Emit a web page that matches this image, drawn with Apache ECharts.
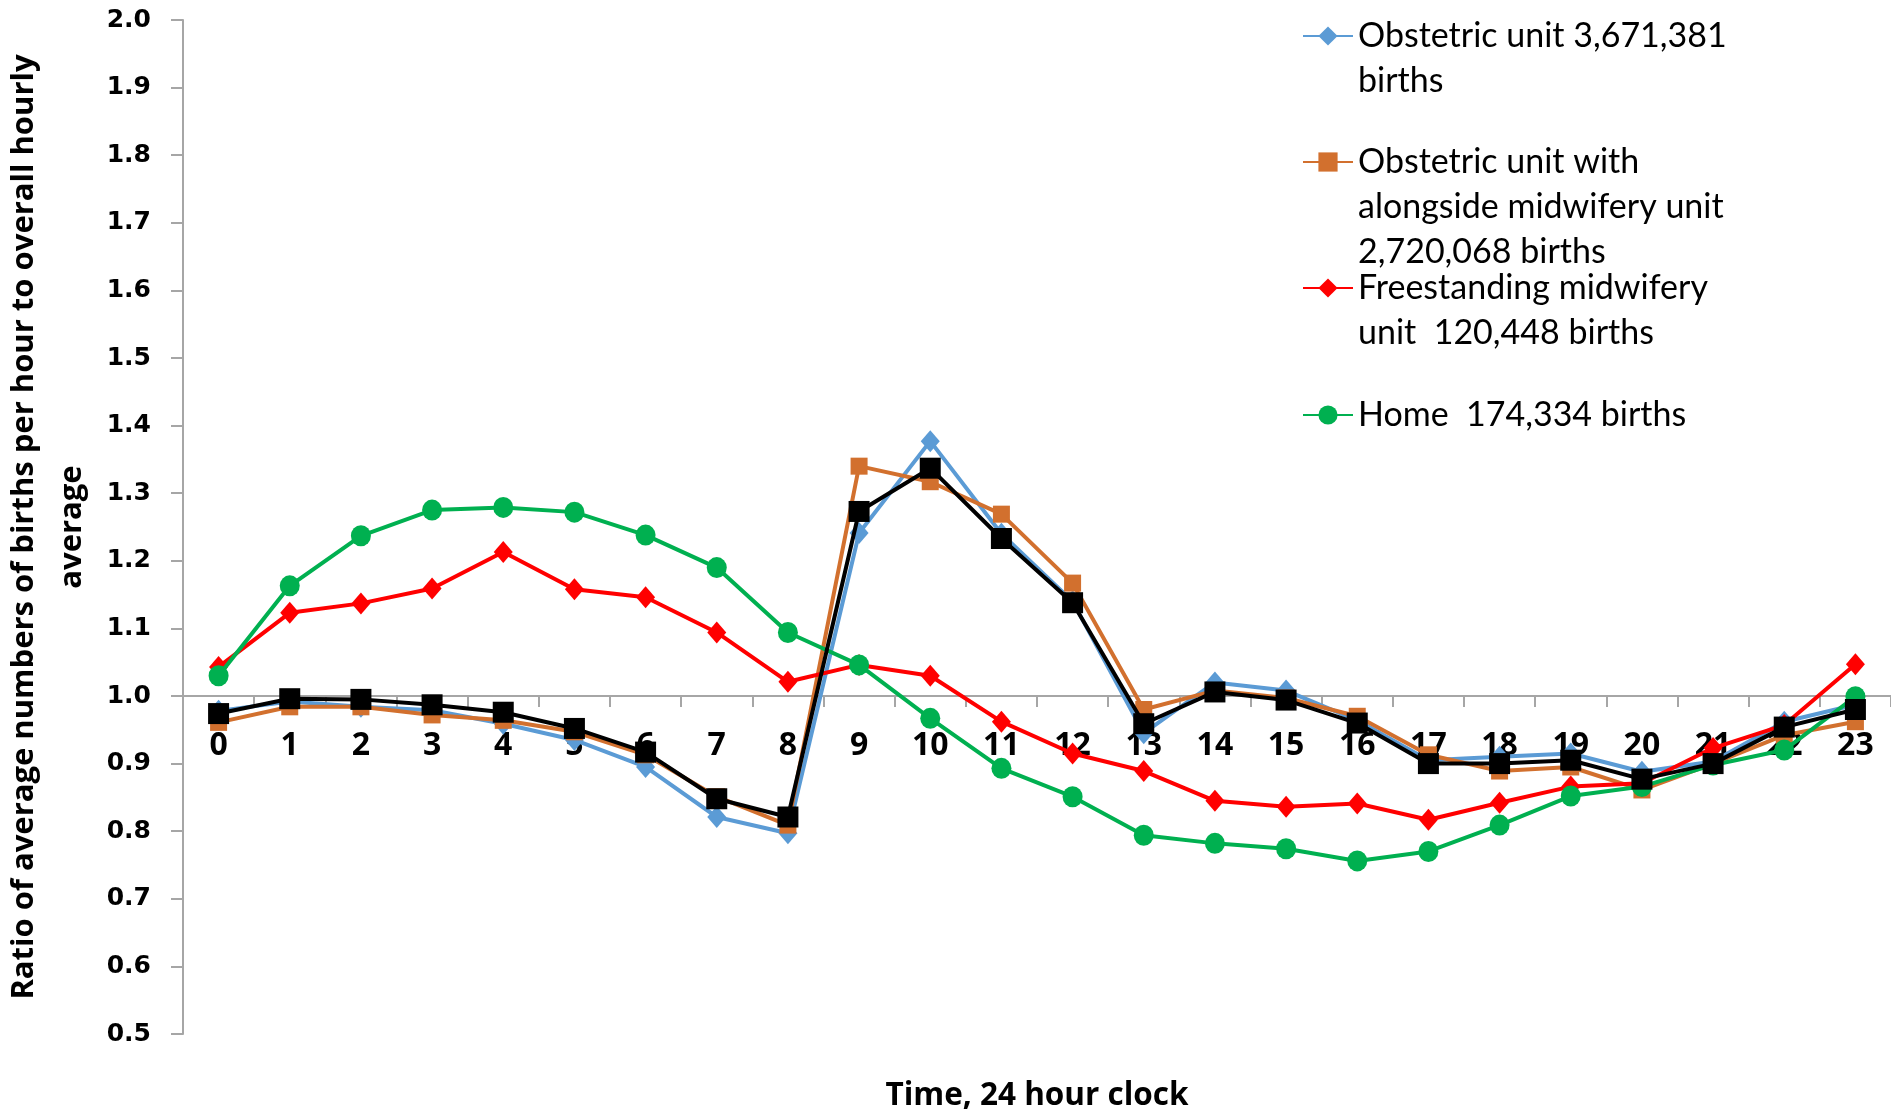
<!DOCTYPE html>
<html><head><meta charset="utf-8">
<script src="https://cdn.jsdelivr.net/npm/echarts@6/dist/echarts.min.js"></script>
<style>html,body{margin:0;padding:0;background:#fff}#c{width:1891px;height:1110px}</style>
</head><body><div id="c"></div>
<script>
// ---- data ----
const hours = ['0','1','2','3','4','5','6','7','8','9','10','11','12','13','14','15','16','17','18','19','20','21','22','23'];
const obstetricUnit = [0.978,0.992,0.984,0.979,0.959,0.935,0.895,0.821,0.797,1.241,1.377,1.240,1.140,0.945,1.020,1.008,0.964,0.905,0.910,0.915,0.888,0.903,0.962,0.987];
const obstetricAMU  = [0.961,0.984,0.984,0.972,0.964,0.947,0.913,0.851,0.809,1.340,1.317,1.269,1.167,0.980,1.008,0.997,0.970,0.913,0.889,0.895,0.861,0.900,0.942,0.962];
const freestanding  = [1.043,1.123,1.137,1.159,1.213,1.158,1.146,1.094,1.021,1.046,1.030,0.962,0.915,0.889,0.845,0.836,0.841,0.817,0.842,0.866,0.871,0.923,0.957,1.047];
const home          = [1.030,1.163,1.237,1.275,1.279,1.272,1.238,1.190,1.094,1.046,0.967,0.893,0.851,0.794,0.782,0.774,0.756,0.770,0.809,0.852,0.866,0.898,0.920,0.999];
const allBirths     = [0.974,0.996,0.995,0.987,0.976,0.952,0.917,0.848,0.821,1.273,1.337,1.233,1.138,0.959,1.006,0.994,0.960,0.900,0.900,0.905,0.877,0.900,0.954,0.980];
const yMin = 0.5, yMax = 2.0, yInterval = 0.1, xCross = 1.0;

const seriesNames = ['Obstetric unit','Obstetric unit with AMU','Freestanding midwifery unit','Home','All births'];
const legendLines = [
  ['Obstetric unit 3,671,381','births'],
  ['Obstetric unit with','alongside midwifery unit','2,720,068 births'],
  ['Freestanding midwifery','unit  120,448 births'],
  ['Home  174,334 births']
];

// ---- layout ----
const gridTop = 20, gridBottom = 76, H = 1110;
const gridH = H - gridTop - gridBottom;
const crossOffset = -gridH * (xCross - yMin) / (yMax - yMin);
const legendFirstLineY = [36, 162, 288, 415];
const legendLH = 45;

const legends = legendLines.map((lines, i) => {
  const n = lines.length;
  const txt = '\n'.repeat(n - 1) + lines.join('\n');
  return {
    data: [seriesNames[i]],
    left: 1302,
    top: legendFirstLineY[i] - (2 * n - 1) * legendLH / 2,
    padding: 0,
    itemWidth: 50, itemHeight: 24, itemGap: 0,
    selectedMode: false,
    formatter: () => txt,
    textStyle: {fontFamily: 'Lato', fontSize: 34, color: '#000', lineHeight: legendLH}
  };
});

function mk(name, data, color, symbol, size, z) {
  return {
    name, type: 'line', data, z,
    symbol, symbolSize: size, showSymbol: true, showAllSymbol: true,
    lineStyle: {color, width: 4},
    itemStyle: {color, borderWidth: 0},
    emphasis: {disabled: true},
    animation: false
  };
}

const chart = echarts.init(document.getElementById('c'), null, {renderer: 'canvas'});
chart.setOption({
  backgroundColor: '#fff',
  animation: false,
  legend: legends,
  grid: {left: 183, right: 0, top: gridTop, bottom: gridBottom, containLabel: false, outerBoundsMode: 'none'},
  xAxis: {
    type: 'category', data: hours, boundaryGap: true,
    position: 'bottom', offset: crossOffset,
    axisLine: {onZero: false, lineStyle: {color: '#A6A6A6', width: 2}},
    axisTick: {show: true, length: 11, lineStyle: {color: '#A6A6A6', width: 2}},
    axisLabel: {margin: 34, fontFamily: 'Open Sans', fontWeight: 'bold', fontSize: 32, color: '#000', interval: 0},
    splitLine: {show: false},
    name: 'Time, 24 hour clock', nameLocation: 'middle', nameGap: 384,
    nameTextStyle: {fontFamily: 'Open Sans', fontWeight: 'bold', fontSize: 31.5, color: '#000'}
  },
  yAxis: {
    type: 'value', min: yMin, max: yMax, interval: yInterval,
    axisLine: {show: true, lineStyle: {color: '#A6A6A6', width: 2}},
    axisTick: {show: true, length: 12, lineStyle: {color: '#A6A6A6', width: 2}},
    axisLabel: {margin: 32, fontFamily: 'DejaVu Sans', fontWeight: 'bold', fontSize: 25, color: '#000', formatter: v => v.toFixed(1)},
    splitLine: {show: false},
    name: 'Ratio of average numbers of births per hour to overall hourly\naverage',
    nameLocation: 'middle', nameGap: 80, nameRotate: 90,
    nameTextStyle: {fontFamily: 'Open Sans', fontWeight: 'bold', fontSize: 31, color: '#000', lineHeight: 48, align: 'center'}
  },
  series: [
    mk(seriesNames[0], obstetricUnit, '#5B9BD5', 'diamond', [19, 22], 2),
    mk(seriesNames[1], obstetricAMU, '#D2702E', 'rect', 17, 3),
    mk(seriesNames[2], freestanding, '#FF0000', 'diamond', [19, 22], 4),
    mk(seriesNames[3], home, '#00B050', 'circle', [20, 21], 5),
    mk(seriesNames[4], allBirths, '#000000', 'rect', 21, 6)
  ]
});
</script>
</body></html>
